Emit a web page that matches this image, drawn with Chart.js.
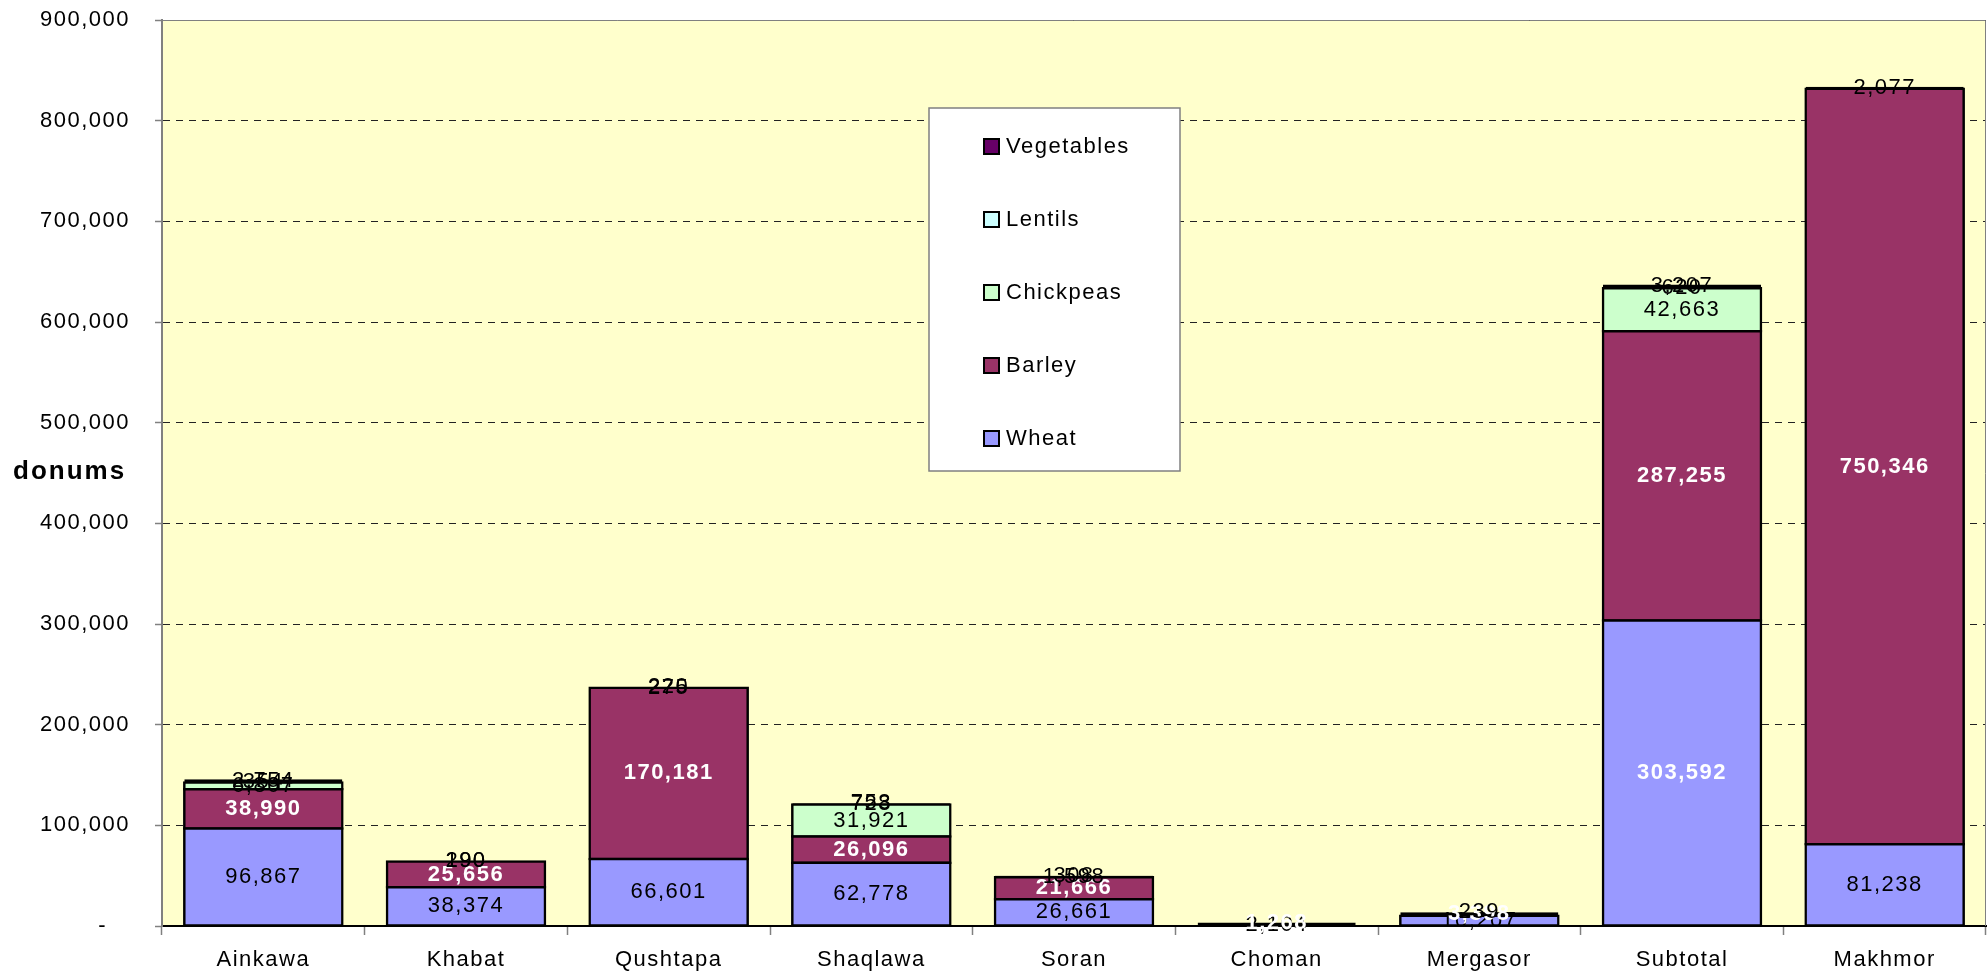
<!DOCTYPE html>
<html>
<head>
<meta charset="utf-8">
<script src="https://cdn.jsdelivr.net/npm/chart.js@4/dist/chart.umd.min.js"></script>
<style>
  html, body { margin: 0; padding: 0; background: #fff; }
  #wrap { width: 1988px; height: 974px; }
</style>
</head>
<body>
<div id="wrap"><canvas id="cropChart" width="1988" height="974"></canvas></div>
<script>
const ctx = document.getElementById('cropChart').getContext('2d');

// Data (donums)
const categories = ['Ainkawa', 'Khabat', 'Qushtapa', 'Shaqlawa', 'Soran', 'Choman', 'Mergasor', 'Subtotal', 'Makhmor'];
const wheat      = [96867, 38374, 66601, 62778, 26661, 2104, 10207, 303592, 81238];
const barley     = [38990, 25656, 170181, 26096, 21666, 1268, 3398, 287255, 750346];
const chickpeas  = [6807, 290, 275, 31921, 1598, 0, 239, 42663, 2077];
const lentils    = [354, 0, 0, 728, 0, 0, 0, 620, 0];
const vegetables = [2754, 190, 220, 753, 308, 0, 0, 3207, 0];
const yMax = 900000;
const yStep = 100000;

const FONT = '"Liberation Sans", Arial, sans-serif';

// Excel-ish text is slightly tracked out
const spacing = {
    id: 'spacing',
    beforeUpdate(chart) { chart.ctx.letterSpacing = '1.5px'; },
    beforeDraw(chart) { chart.ctx.letterSpacing = '1.5px'; }
};

// yellow plot area + grey frame
const plotArea = {
    id: 'plotArea',
    beforeDraw(chart) {
        const { ctx, chartArea: a } = chart;
        ctx.save();
        ctx.fillStyle = '#FFFFCC';
        ctx.fillRect(a.left, a.top, a.right - a.left, a.bottom - a.top);
        ctx.restore();
    },
    beforeDatasetsDraw(chart) {
        const { ctx, chartArea: a } = chart;
        ctx.save();
        ctx.strokeStyle = '#808080';
        ctx.lineWidth = 1;
        ctx.beginPath();
        ctx.moveTo(a.left, a.top + 0.5);
        ctx.lineTo(a.right - 0.5, a.top + 0.5);
        ctx.lineTo(a.right - 0.5, a.bottom);
        ctx.stroke();
        ctx.restore();
    }
};

// value labels centred in each segment
const barLabels = {
    id: 'barLabels',
    afterDatasetsDraw(chart) {
        const c = chart.ctx;
        c.save();
        c.textAlign = 'center';
        c.textBaseline = 'middle';
        chart.data.datasets.forEach((ds, d) => {
            const meta = chart.getDatasetMeta(d);
            meta.data.forEach((bar, i) => {
                const v = ds.data[i];
                if (!v) return;
                const white = d === 1 || (d === 0 && categories[i] === 'Subtotal');
                c.font = (white ? 'bold ' : '') + '22px ' + FONT;
                c.fillStyle = white ? '#fff' : '#000';
                const p = bar.getProps(['x', 'y', 'base'], true);
                c.fillText(v.toLocaleString('en-US'), p.x, (p.y + p.base) / 2);
            });
        });
        c.restore();
    }
};

// boxed legend inside the plot + horizontal axis title
const boxLegend = {
    id: 'boxLegend',
    afterDraw(chart) {
        const c = chart.ctx;
        c.save();
        c.fillStyle = '#fff';
        c.strokeStyle = '#808080';
        c.lineWidth = 1.5;
        c.fillRect(929, 108, 251, 363);
        c.strokeRect(929, 108, 251, 363);
        c.font = '22px ' + FONT;
        c.textBaseline = 'middle';
        c.textAlign = 'left';
        chart.data.datasets.slice().reverse().forEach((ds, k) => {
            const cy = 146 + k * 73;
            c.fillStyle = ds.backgroundColor;
            c.fillRect(984, cy - 7, 15, 15);
            c.lineWidth = 2;
            c.strokeStyle = '#000';
            c.strokeRect(984, cy - 7, 15, 15);
            c.fillStyle = '#000';
            c.fillText(ds.label, 1006, cy + 1);
        });
        c.letterSpacing = '2px';
        c.font = 'bold 26px ' + FONT;
        c.fillText('donums', 13, 472);
        c.restore();
    }
};

const mkSet = (label, data, color) => ({
    label: label,
    data: data,
    backgroundColor: color,
    borderColor: '#000',
    borderWidth: 2.5,
    borderSkipped: false,
    // centre the outline on the edge like Excel does, but keep slivers solid black
    inflateAmount: c => (c.raw > 6000 ? 1.25 : 0),
    barPercentage: 0.78,
    categoryPercentage: 1
});

new Chart(ctx, {
    type: 'bar',
    data: {
        labels: categories,
        datasets: [
            mkSet('Wheat', wheat, '#9999FF'),
            mkSet('Barley', barley, '#993366'),
            mkSet('Chickpeas', chickpeas, '#CCFFCC'),
            mkSet('Lentils', lentils, '#CCFFFF'),
            mkSet('Vegetables', vegetables, '#660066')
        ]
    },
    options: {
        responsive: false,
        animation: false,
        layout: { padding: { top: 20, right: 2, left: 0, bottom: 0 } },
        scales: {
            x: {
                stacked: true,
                grid: {
                    offset: true,
                    drawOnChartArea: false,
                    tickLength: 9,
                    tickColor: '#808080',
                    tickWidth: 1.5
                },
                border: { color: '#000', width: 2 },
                ticks: {
                    color: '#000',
                    font: { size: 22, family: FONT },
                    padding: 12,
                    maxRotation: 0,
                    autoSkip: false
                },
                afterFit(s) {
                    s.height = 48;
                    s.paddingLeft = 0;
                    s.paddingRight = 0;
                }
            },
            y: {
                stacked: true,
                min: 0,
                max: yMax,
                grid: {
                    color: '#222',
                    lineWidth: 1,
                    tickLength: 7,
                    tickColor: '#808080',
                    tickWidth: 1.5
                },
                border: { color: '#808080', width: 2, dash: [7, 6] },
                ticks: {
                    stepSize: yStep,
                    color: '#000',
                    font: { size: 22, family: FONT },
                    padding: 25,
                    callback: v => v === 0 ? '-   ' : v.toLocaleString('en-US')
                },
                afterFit(s) {
                    s.width = 162;
                    s.paddingTop = 0;
                    s.paddingBottom = 0;
                }
            }
        },
        plugins: {
            legend: { display: false },
            tooltip: { enabled: false }
        }
    },
    plugins: [spacing, plotArea, barLabels, boxLegend]
});
</script>
</body>
</html>
